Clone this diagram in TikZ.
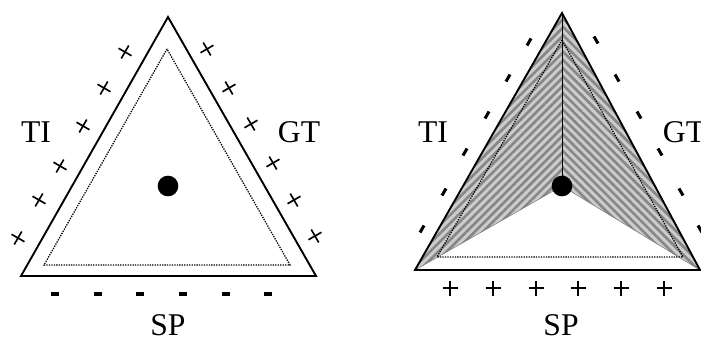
\documentclass[tikz,border=0pt]{standalone}
\usepackage{fontspec}
\setmainfont{Liberation Serif}
\usetikzlibrary{patterns.meta}

\begin{document}
\begin{tikzpicture}[
      x=0.03cm, y=-0.03cm,
      edge/.style={line width=1.6pt, line join=miter},
      inner/.style={densely dotted, line width=1.1pt},
      dot/.style={circle, fill=black, inner sep=0pt, minimum size=0.62cm},
      lbl/.style={font=\fontsize{27}{29}\selectfont, inner sep=0pt},
      plusline/.style={line width=1.4pt},
      bar/.style={line width=2.6pt},
      striped/.style={fill=gray!40, postaction={pattern={Lines[angle=#1,distance=5pt,line width=2.2pt]}, pattern color=gray!95}},
      plusmark/.pic={\draw[plusline] (-7.5,0) -- (7.5,0) (0,-7.5) -- (0,7.5);},
    ]
    \useasboundingbox (0,0) rectangle (701,342);

    % left triangle
    \coordinate (la) at (168,17);
    \coordinate (lb) at (21,276);
    \coordinate (lc) at (316,276);
    \draw[edge] (la) -- (lb) -- (lc) -- cycle;
    \draw[inner] (167,49) -- (44,265) -- (290,265) -- cycle;
    \node[dot] (ldot) at (168,186) {};

    \foreach \x/\y in {18/238, 39/200, 60/166, 83/126, 104/88, 125/52}
      \pic[rotate=-30] at (\x,\y) {plusmark};
    \foreach \x/\y in {207/49, 229/88, 251/124, 273/163, 294/200, 315/236}
      \pic[rotate=30] at (\x,\y) {plusmark};
    \foreach \x in {55, 98, 140, 183, 226, 268}
      \draw[bar] (\x-4,294) -- (\x+4,294);

    \node[lbl] (lti) at (36,132) {TI};
    \node[lbl] (lgt) at (299,132) {GT};
    \node[lbl] (lsp) at (168,325) {SP};

    % right triangle
    \coordinate (ra) at (562,13);
    \coordinate (rb) at (415,270);
    \coordinate (rc) at (700,270);
    \coordinate (rm) at (562,186);
    \fill[striped=45] (ra) -- (rb) -- (rm) -- cycle;
    \fill[striped=-45] (ra) -- (rm) -- (rc) -- cycle;
    \draw[gray, line width=0.5pt] (rb) -- (rm) -- (rc);
    \draw[line width=0.6pt] (ra) -- (rm);
    \draw[inner] (562,40) -- (437,257) -- (683,257) -- cycle;
    \draw[edge] (ra) -- (rb) -- (rc) -- cycle;
    \node[dot] (rdot) at (rm) {};

    \foreach \x/\y in {422/229, 444/192, 465/152, 487/115, 508/78, 529/42}
      \draw[bar] (\x,\y) ++(-2,3.5) -- ++(4,-7);
    \foreach \x/\y in {596/40, 617/78, 639/115, 660/152, 681/192, 700/229}
      \draw[bar] (\x,\y) ++(-2,-3.5) -- ++(4,7);
    \foreach \x in {450, 493, 536, 578, 621, 664}
      \pic at (\x,288) {plusmark};

    \node[lbl] (rti) at (433,132) {TI};
    \node[lbl] (rgt) at (684,132) {GT};
    \node[lbl] (rsp) at (561,325) {SP};
\end{tikzpicture}
\end{document}
